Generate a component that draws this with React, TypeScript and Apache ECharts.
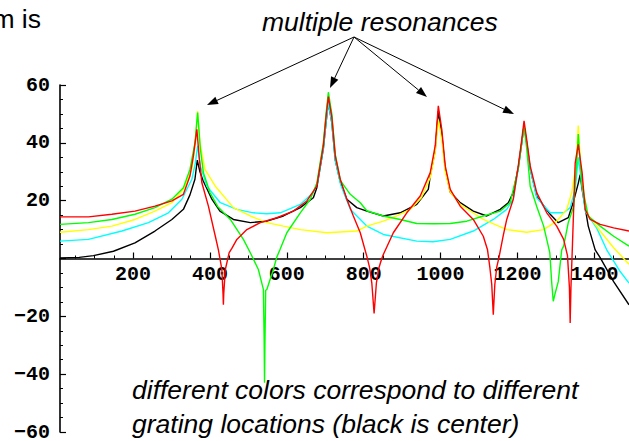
import { useEffect, useRef } from "react";
import * as echarts from "echarts";

// axis ranges and ticks
const X_MIN = 10;
const X_MAX = 1490;
const X_LABELS = [200, 400, 600, 800, 1000, 1200, 1400];
const X_MINOR = [50, 100, 150, 250, 300, 350, 450, 500, 550, 650, 700, 750, 850, 900, 950, 1050, 1100, 1150, 1250, 1300, 1350, 1450];
const Y_MIN = -60;
const Y_MAX = 60;

// curves: [x, y] pairs
const BLACK: [number, number][] = [
  [10, 0.2], [60, 0.4], [97, 1.0], [149, 2.5], [205, 5.4], [257, 9.5], [301, 13.5], [331, 17], [348, 22], [361, 27.4],
  [367, 34], [374, 30], [382, 27], [405, 20.5], [426, 16.4], [461, 13.5], [505, 12.4], [548, 12.9], [591, 14.7], [635, 17.6],
  [669, 21], [678, 24.5], [695, 38], [702, 47], [708, 54], [717, 47], [726, 34], [739, 26.5], [756, 20.5], [782, 17.6],
  [808, 16.4], [851, 14.7], [895, 15.8], [938, 18.7], [968, 23.9], [973, 28.5], [986, 37.5], [994, 51], [1003, 43], [1012, 31],
  [1025, 23], [1051, 19.3], [1085, 16.4], [1120, 14.7], [1155, 17], [1176, 19.3], [1189, 22.8], [1202, 31.5], [1211, 40], [1217, 46],
  [1224, 40], [1233, 31], [1250, 21.5], [1285, 15.3], [1306, 12.4], [1332, 14.1], [1346, 19.9], [1358, 26], [1363, 29], [1368, 24],
  [1384, 11.2], [1402, 3], [1415, 0.3], [1450, -8], [1490, -16],
];

const CYAN: [number, number][] = [
  [10, 6], [84, 6.6], [171, 9.5], [240, 12.4], [292, 15.8], [327, 20.5], [353, 27.4], [362, 33], [368, 39], [375, 32],
  [392, 25], [427, 19.3], [470, 17], [513, 15.8], [548, 15.5], [583, 15.8], [635, 18.7], [670, 23], [680, 26.5], [695, 38],
  [702, 47], [708, 54], [717, 47], [726, 34], [740, 25.5], [765, 17], [808, 11.2], [851, 8.3], [938, 6], [980, 5.8],
  [1025, 6.6], [1085, 9.5], [1137, 13.5], [1172, 17], [1189, 20.5], [1202, 31], [1211, 40], [1217, 46], [1224, 40], [1233, 31],
  [1250, 21], [1285, 15.8], [1320, 15.8], [1337, 17.6], [1350, 24], [1358, 35], [1366, 27], [1376, 16.4], [1406, 10.5], [1432, 3],
  [1467, -4.5], [1490, -8.5],
];

const YELLOW: [number, number][] = [
  [10, 9.1], [84, 10], [145, 11.2], [205, 13.5], [257, 16.4], [301, 19.3], [331, 23.9], [353, 30.8], [362, 40], [368, 51],
  [374, 40], [387, 30.8], [414, 25], [461, 17.6], [505, 14.7], [548, 12.4], [591, 11.2], [635, 10], [704, 8.9], [782, 9.5],
  [808, 11.2], [851, 12.9], [886, 14.7], [921, 17], [950, 21], [973, 28], [986, 37], [994, 48], [1003, 41], [1012, 30],
  [1025, 23], [1051, 18.7], [1111, 13.5], [1172, 10], [1224, 9.1], [1268, 10], [1302, 12.9], [1328, 17], [1341, 22.8], [1352, 32],
  [1358, 46], [1364, 33], [1370, 25], [1380, 15.8], [1415, 9.5], [1450, 3.7], [1490, -2],
];

const GREEN: [number, number][] = [
  [10, 11.8], [84, 12.4], [145, 13.5], [205, 15.3], [257, 17.6], [301, 20.5], [331, 24.5], [348, 30.8], [361, 40], [368, 50.5],
  [375, 38], [383, 29.7], [400, 22.8], [420, 18], [453, 13.5], [487, 6.6], [505, 2], [526, -3.8], [539, -10.7], [541, -28],
  [542, -43], [543, -30], [545, -11], [548, -10.7], [565, -3.8], [574, 0.5], [582, 3], [600, 8.9], [635, 15.8], [661, 20.5],
  [678, 26], [695, 40], [702, 50], [708, 57.5], [717, 50], [726, 36], [739, 27], [765, 22.2], [791, 19.3], [808, 16.5],
  [851, 14.7], [895, 13.5], [938, 12.1], [981, 12], [1025, 12.1], [1068, 12.9], [1111, 14.7], [1155, 16.4], [1181, 19.3], [1189, 23.9],
  [1202, 31], [1211, 40], [1217, 46], [1224, 38], [1233, 25], [1250, 18], [1268, 11.2], [1284, 2], [1289, -8.4], [1293, -14.8],
  [1298, -12], [1306, -8], [1315, 3], [1320, 4.3], [1332, 12.4], [1346, 18], [1354, 33], [1358, 43], [1362, 35], [1368, 25],
  [1384, 14.7], [1415, 11.2], [1450, 7.7], [1490, 4.3],
];

const RED: [number, number][] = [
  [10, 14.4], [84, 14.4], [145, 15.3], [205, 16.4], [257, 18.1], [301, 19.9], [331, 22.2], [348, 28.5], [357, 35.5], [366, 44.7],
  [372, 35], [379, 26.2], [396, 18.1], [414, 7.7], [422, 3], [431, -3.8], [434, -12], [435, -16], [436, -12], [440, -3.8],
  [450, 2], [457, 3.5], [470, 6.6], [496, 10], [531, 12.4], [574, 14.1], [617, 16.4], [652, 19.9], [678, 25], [695, 39],
  [702, 49], [708, 56], [717, 49], [726, 35.5], [739, 27.4], [756, 20.5], [773, 14.7], [791, 8.9], [808, 0.8], [815, -3],
  [821, -8.4], [827, -19], [833, -8.4], [840, -3], [847, 0], [851, 1.4], [877, 8.9], [912, 15.8], [947, 21.6], [973, 29.7],
  [986, 39], [994, 52.8], [1003, 44.7], [1012, 32], [1025, 23.9], [1051, 18.1], [1085, 13.5], [1111, 7.7], [1122, 3], [1128, -3],
  [1133, -9], [1137, -19.4], [1141, -9], [1146, -3], [1152, 0.5], [1163, 8], [1172, 13.5], [1189, 20.5], [1202, 32], [1211, 41],
  [1217, 47.6], [1224, 41], [1233, 32], [1250, 22.8], [1276, 15.8], [1302, 11.2], [1320, 6.6], [1330, 1], [1335, -10], [1337, -22.3],
  [1339, -10], [1343, 5], [1350, 33], [1358, 39.5], [1368, 29.7], [1376, 17], [1389, 13.5], [1415, 11.8], [1450, 10.6], [1490, 9.5],
];

const SERIES = [
  { name: "black", color: "#000000", data: BLACK },
  { name: "cyan", color: "#00ffff", data: CYAN },
  { name: "yellow", color: "#ffff00", data: YELLOW },
  { name: "green", color: "#00ff00", data: GREEN },
  { name: "red", color: "#ff0000", data: RED },
];

const TITLE = "multiple resonances";
const LEFT_TEXT = "m is";
const NOTE_1 = "different colors correspond to different";
const NOTE_2 = "grating locations (black is center)";

const ARROW_SOURCE: [number, number] = [354, 37];
const ARROW_TIPS: [number, number][] = [[207, 105], [330, 88], [427, 97], [514, 114]];

function arrowElements() {
  const els: any[] = [];
  const [sx, sy] = ARROW_SOURCE;
  for (const [tx, ty] of ARROW_TIPS) {
    const dx = tx - sx;
    const dy = ty - sy;
    const len = Math.sqrt(dx * dx + dy * dy);
    const ux = dx / len;
    const uy = dy / len;
    const bx = tx - ux * 11;
    const by = ty - uy * 11;
    const px = -uy;
    const py = ux;
    els.push({
      type: "line",
      shape: { x1: sx, y1: sy, x2: bx, y2: by },
      style: { stroke: "#000", lineWidth: 1 },
      silent: true,
    });
    els.push({
      type: "polygon",
      shape: { points: [[tx, ty], [bx + px * 4, by + py * 4], [bx - px * 4, by - py * 4]] },
      style: { fill: "#000" },
      silent: true,
    });
  }
  return els;
}

function textEl(text: string, x: number, y: number, italic: boolean, align: string) {
  return {
    type: "text",
    x,
    y,
    silent: true,
    style: {
      text,
      fill: "#000",
      fontSize: 26.5,
      fontFamily: "Liberation Sans, Arial, sans-serif",
      fontStyle: italic ? "italic" : "normal",
      align,
      textAlign: align,
      verticalAlign: "middle",
      textVerticalAlign: "middle",
    },
  };
}

const tickFont = {
  color: "#000",
  fontFamily: "Liberation Mono, monospace",
  fontWeight: "bold",
  fontSize: 20,
};

export default function App() {
  const ref = useRef<HTMLDivElement>(null);
  useEffect(() => {
    if (!ref.current) return;
    const chart = echarts.init(ref.current, null, { renderer: "svg" });
    const upperGrid = { left: 60, right: 0, top: 85, height: 173.5, containLabel: false, outerBoundsMode: "none" };
    chart.setOption({
      animation: false,
      backgroundColor: "#ffffff",
      grid: [
        { left: 60, right: 0, top: 85, height: 347, containLabel: false, outerBoundsMode: "none" },
        upperGrid,
        { ...upperGrid },
      ],
      xAxis: [
        { gridIndex: 0, type: "value", min: X_MIN, max: X_MAX, show: false },
        {
          gridIndex: 1,
          type: "value",
          min: X_MIN,
          max: X_MAX,
          position: "bottom",
          axisLine: { show: true, onZero: false, lineStyle: { color: "#000", width: 1.6 } },
          axisTick: { show: true, inside: true, length: 3, customValues: X_MINOR, lineStyle: { color: "#000", width: 1 } },
          axisLabel: {
            show: true,
            customValues: X_LABELS,
            margin: 6,
            ...tickFont,
            formatter: (v: number) => String(v),
          },
          splitLine: { show: false },
        },
        {
          gridIndex: 2,
          type: "value",
          min: X_MIN,
          max: X_MAX,
          position: "bottom",
          axisLine: { show: false, onZero: false },
          axisTick: { show: true, inside: true, length: 6, customValues: X_LABELS, lineStyle: { color: "#000", width: 1.2 } },
          axisLabel: { show: false },
          splitLine: { show: false },
        },
      ],
      yAxis: [
        {
          gridIndex: 0,
          type: "value",
          min: Y_MIN,
          max: Y_MAX,
          interval: 20,
          axisLine: { show: true, onZero: false, lineStyle: { color: "#000", width: 1.6 } },
          axisTick: { show: true, inside: true, length: 6, lineStyle: { color: "#000", width: 1.2 } },
          minorTick: { show: true, splitNumber: 4, length: 3, lineStyle: { color: "#000", width: 1 } },
          axisLabel: {
            margin: 10,
            ...tickFont,
            formatter: (v: number) => (v === 0 ? "" : v < 0 ? "\u2212" + -v : String(v)),
          },
          splitLine: { show: false },
          minorSplitLine: { show: false },
        },
        { gridIndex: 1, type: "value", min: 0, max: Y_MAX, show: false },
        { gridIndex: 2, type: "value", min: 0, max: Y_MAX, show: false },
      ],
      series: SERIES.map((s) => ({
        name: s.name,
        type: "line",
        xAxisIndex: 0,
        yAxisIndex: 0,
        data: s.data,
        showSymbol: false,
        symbol: "none",
        clip: true,
        z: 5,
        lineStyle: { color: s.color, width: 1.4 },
        itemStyle: { color: s.color },
      })),
      graphic: [
        textEl(LEFT_TEXT, 41, 19, false, "right"),
        textEl(TITLE, 262, 22, true, "left"),
        textEl(NOTE_1, 132, 390, true, "left"),
        textEl(NOTE_2, 132, 424, true, "left"),
        ...arrowElements(),
      ],
    });
    return () => chart.dispose();
  }, []);
  return (
    <div
      ref={ref}
      style={{ position: "fixed", left: 0, top: 0, width: 629, height: 441, background: "#fff" }}
    />
  );
}
